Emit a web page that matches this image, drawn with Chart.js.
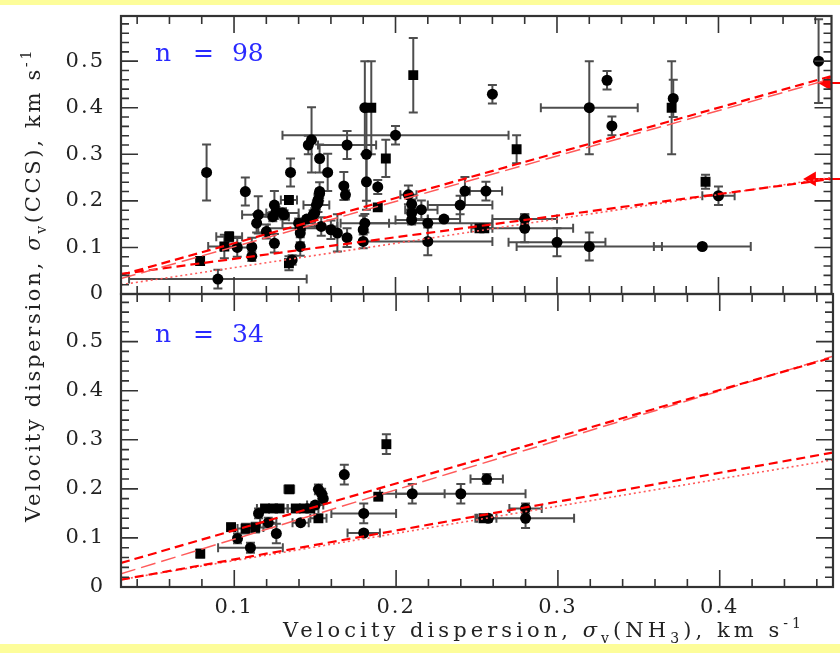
<!DOCTYPE html>
<html>
<head>
<meta charset="utf-8">
<script src="https://cdn.jsdelivr.net/npm/chart.js@4.4.1/dist/chart.umd.min.js"></script>
<style>
body{margin:0;background:#fff;}
#page{position:relative;width:840px;height:653px;background:#fff;overflow:hidden;}
.band{position:absolute;left:0;width:840px;background:#fdfd9a;}
canvas{position:absolute;left:0;top:0;}
</style>
</head>
<body>
<div id="page">
<div class="band" style="top:0;height:5px"></div>
<div class="band" style="top:644px;height:9px"></div>
<canvas id="topChart" width="840" height="653"></canvas>
<canvas id="botChart" width="840" height="653"></canvas>
</div>
<script>
// ---- data ----
// upper panel (n = 98)
const topX    = [0.083,0.090,0.079,0.107,0.097,0.094,0.102,0.111,0.111,0.115,0.114,0.120,0.125,0.124,0.130,0.125,0.134,0.135,0.134,0.136,
                 0.141,0.141,0.140,0.145,0.146,0.148,0.153,0.158,0.153,0.152,0.150,0.154,0.160,0.164,0.168,0.169,0.170,0.170,0.180,0.180,
                 0.181,0.182,0.182,0.185,0.181,0.189,0.189,0.194,0.200,0.211,0.208,0.210,0.216,0.210,0.210,0.220,0.220,0.141,0.126,0.131,
                 0.149,0.151,0.152,0.153,0.260,0.320,0.331,0.334,0.372,0.371,0.462,0.275,0.243,0.256,0.240,0.230,0.255,0.252,0.280,0.280,
                 0.300,0.320,0.390,0.392,0.400];
const topY    = [0.261,0.032,0.071,0.220,0.123,0.102,0.100,0.101,0.081,0.170,0.152,0.134,0.191,0.166,0.174,0.109,0.202,0.261,0.066,0.073,
                 0.131,0.102,0.152,0.161,0.320,0.331,0.291,0.261,0.220,0.196,0.174,0.145,0.138,0.131,0.232,0.213,0.320,0.121,0.138,0.113,
                 0.152,0.241,0.300,0.400,0.400,0.230,0.186,0.291,0.341,0.470,0.213,0.193,0.181,0.174,0.159,0.113,0.152,0.141,0.177,0.170,
                 0.170,0.191,0.202,0.216,0.429,0.400,0.459,0.361,0.420,0.400,0.500,0.311,0.221,0.221,0.191,0.161,0.141,0.141,0.161,0.141,
                 0.111,0.102,0.102,0.241,0.211];
const topXErr = [0,0.055,0,0,0.008,0.01,0.01,0,0,0.01,0,0,0,0.01,0.01,0,0.005,0,0,0,
                 0,0,0.01,0.005,0,0,0,0,0,0,0,0.01,0,0,0,0,0.018,0,0,0,
                 0.015,0,0,0,0,0,0,0,0.07,0,0.005,0,0.01,0,0.01,0.04,0.04,0.02,0,0,
                 0,0.008,0,0,0,0.03,0,0,0,0,0,0,0,0.01,0.02,0.01,0.005,0.005,0.02,0.03,
                 0.03,0.045,0.03,0,0.01];
const topYErr = [0.06,0.02,0.008,0.03,0.01,0.025,0.02,0.02,0.01,0.04,0.02,0.015,0.03,0.01,0.01,0.02,0.005,0.03,0.015,0.01,
                 0.02,0.02,0.01,0.005,0.02,0.07,0.03,0.04,0.02,0.02,0.01,0.02,0.02,0.04,0.03,0.01,0.03,0.02,0.03,0.015,
                 0.02,0.06,0.1,0.1,0.1,0.015,0.005,0.04,0.02,0.08,0.02,0.01,0.02,0.01,0.01,0.03,0,0,0.01,0.01,
                 0.01,0.01,0.01,0.01,0.02,0.1,0.02,0.02,0.04,0.1,0.09,0.03,0.03,0.02,0.02,0.005,0.005,0.005,0.01,0.03,
                 0.03,0.03,0.005,0.015,0.02];
const topShape = ['c','c','s','c','s','s','c','c','c','c','c','c','c','c','c','c','s','c','s','c',
                  'c','c','c','c','c','c','c','c','c','c','c','c','c','c','c','c','c','c','c','c',
                  'c','c','c','s','c','c','s','s','c','s','c','c','c','c','c','c','c','c','c','c',
                  'c','c','c','c','c','c','c','c','c','s','c','s','c','c','c','c','s','s','c','c',
                  'c','c','c','s','c'];

// lower panel (n = 34)
const botX    = [0.079,0.098,0.102,0.107,0.113,0.110,0.115,0.119,0.124,0.128,0.121,0.126,0.134,0.138,0.143,0.147,0.150,0.141,0.152,0.152,
                 0.154,0.155,0.168,0.180,0.180,0.189,0.194,0.210,0.240,0.256,0.254,0.257,0.280,0.280];
const botY    = [0.068,0.122,0.099,0.119,0.121,0.080,0.150,0.160,0.160,0.160,0.131,0.109,0.199,0.160,0.160,0.160,0.167,0.131,0.140,0.199,
                 0.190,0.180,0.229,0.150,0.110,0.184,0.291,0.190,0.190,0.220,0.140,0.140,0.160,0.140];
const botXErr = [0,0,0,0.005,0.005,0.02,0,0.005,0.005,0.005,0.005,0,0.003,0.005,0.005,0.005,0.005,0.005,0.005,0,
                 0,0,0,0.02,0.01,0,0,0.02,0.04,0.01,0.005,0.005,0.01,0.03];
const botYErr = [0.008,0.005,0.01,0.01,0.01,0.01,0.01,0.005,0.005,0.005,0.01,0.02,0.005,0.005,0.005,0.005,0.005,0.005,0.005,0.01,
                 0.01,0.01,0.02,0.02,0.005,0.005,0.02,0.02,0.02,0.01,0.005,0.005,0.01,0.02];
const botShape = ['s','s','c','s','s','c','c','s','s','s','c','c','s','s','s','s','c','c','s','c',
                  'c','c','c','c','c','s','s','c','c','c','s','c','c','c'];

// fitted relations (end points at the plot edges)
const fitX = [0.03, 0.47];
const topSteepDash = [0.041, 0.468];
const topSteepLong = [0.033, 0.462];
const topFlatDash  = [0.043, 0.247];
const topFlatDot   = [0.020, 0.250];
const botSteepDash = [0.049, 0.468];
const botSteepLong = [0.027, 0.470];
const botFlatDash  = [0.015, 0.274];
const botFlatDot   = [0.015, 0.259];

// arrows on the right edge of the upper panel
const arrowX = [0.467, 0.4577];
const arrowY = [0.453, 0.247];
const arrowEnd = 0.49;

const xTicks = [0.1, 0.2, 0.3, 0.4];
const yTicks = [0, 0.1, 0.2, 0.3, 0.4, 0.5];

const xTitle = [['Velocity dispersion, ','n'],['σ','i'],['v','sub'],['(NH','n'],['3','sub'],['), km s','n'],['-1','sup']];
const yTitle = [['Velocity dispersion, ','n'],['σ','i'],['v','sub'],['(CCS), km s','n'],['-1','sup']];

Chart.defaults.font.family = '"DejaVu Serif", serif';
Chart.defaults.color = '#222';

// text with sub/superscripts, stretched to a given width
function drawRich(ctx, segs, o) {
  const size = o.size || 21;
  const fontFor = k => (k === 'i' ? 'italic ' : '') + (k === 'sub' || k === 'sup' ? Math.round(size * 0.66) : size) + 'px "DejaVu Serif"';
  ctx.save();
  ctx.translate(o.x, o.y);
  if (o.rot) ctx.rotate(o.rot);
  ctx.fillStyle = o.color || '#222';
  ctx.textBaseline = 'alphabetic';
  ctx.textAlign = 'left';
  ctx.letterSpacing = '0px';
  let w0 = 0, n = 0;
  segs.forEach(([t, k]) => { ctx.font = fontFor(k); w0 += ctx.measureText(t).width; n += t.length; });
  const sp = Math.max(0, (o.width - w0) / n);
  let x = -o.width / 2;
  segs.forEach(([t, k]) => {
    ctx.font = fontFor(k);
    const w = ctx.measureText(t).width;
    ctx.letterSpacing = sp + 'px';
    const dy = k === 'sub' ? size * 0.3 : k === 'sup' ? -size * 0.42 : 0;
    ctx.fillText(t, x, dy);
    ctx.letterSpacing = '0px';
    x += w + sp * t.length;
  });
  ctx.restore();
}

const spacing = {
  id: 'spacing',
  beforeDraw(chart) { chart.ctx.letterSpacing = '2px'; },
  afterDraw(chart) { chart.ctx.letterSpacing = '0px'; }
};

const errorBars = {
  id: 'errorBars',
  beforeDatasetsDraw(chart) {
    const {ctx, chartArea: a, scales: {x, y}} = chart;
    ctx.save();
    ctx.beginPath();
    ctx.rect(a.left, a.top, a.width, a.height);
    ctx.clip();
    ctx.strokeStyle = '#4d4d4d';
    ctx.lineWidth = 2;
    const cap = 4.5;
    chart.data.datasets.forEach(ds => {
      if (!ds.xErr) return;
      ds.data.forEach((p, i) => {
        const px = x.getPixelForValue(p.x), py = y.getPixelForValue(p.y);
        const ex = ds.xErr[i], ey = ds.yErr[i];
        ctx.beginPath();
        if (ey > 0) {
          const y0 = y.getPixelForValue(p.y - ey), y1 = y.getPixelForValue(p.y + ey);
          ctx.moveTo(px, y0); ctx.lineTo(px, y1);
          ctx.moveTo(px - cap, y0); ctx.lineTo(px + cap, y0);
          ctx.moveTo(px - cap, y1); ctx.lineTo(px + cap, y1);
        }
        if (ex > 0) {
          const x0 = x.getPixelForValue(p.x - ex), x1 = x.getPixelForValue(p.x + ex);
          ctx.moveTo(x0, py); ctx.lineTo(x1, py);
          ctx.moveTo(x0, py - cap); ctx.lineTo(x0, py + cap);
          ctx.moveTo(x1, py - cap); ctx.lineTo(x1, py + cap);
        }
        ctx.stroke();
      });
    });
    ctx.restore();
  }
};

// box with inward major/minor ticks on all four sides
const frameTicks = {
  id: 'frameTicks',
  afterDraw(chart) {
    const {ctx, chartArea: a, scales: {x, y}} = chart;
    const isMajor = v => Math.abs(v * 10 - Math.round(v * 10)) < 1e-6;
    ctx.save();
    ctx.strokeStyle = '#333';
    ctx.lineWidth = 1.6;
    ctx.beginPath();
    for (let k = Math.ceil(x.min / 0.02 - 1e-9); k * 0.02 <= x.max + 1e-9; k++) {
      const v = k * 0.02, len = isMajor(v) ? 17 : 8, px = x.getPixelForValue(v);
      ctx.moveTo(px, a.bottom); ctx.lineTo(px, a.bottom - len);
      ctx.moveTo(px, a.top); ctx.lineTo(px, a.top + len);
    }
    for (let k = Math.ceil(y.min / 0.02 - 1e-9); k * 0.02 <= y.max + 1e-9; k++) {
      const v = k * 0.02, len = isMajor(v) ? 17 : 8, py = y.getPixelForValue(v);
      ctx.moveTo(a.left, py); ctx.lineTo(a.left + len, py);
      ctx.moveTo(a.right, py); ctx.lineTo(a.right - len, py);
    }
    ctx.stroke();
    ctx.lineWidth = 2.2;
    ctx.strokeRect(a.left, a.top, a.width, a.height);
    ctx.restore();
  }
};

// "n = ..." label in the upper left corner of each panel
const panelText = {
  id: 'panelText',
  afterDraw(chart, args, opts) {
    const {ctx, scales: {x, y}} = chart;
    const px = x.getPixelForValue(opts.x), py = y.getPixelForValue(opts.y);
    ctx.save();
    ctx.letterSpacing = '0px';
    ctx.font = '25px "DejaVu Serif"';
    ctx.fillStyle = '#2a2aff';
    ctx.textBaseline = 'alphabetic';
    ctx.fillText('n', px, py);
    ctx.fillText('=', px + 38, py);
    ctx.fillText(opts.count, px + 77, py);
    ctx.restore();
    if (opts.titles) {
      drawRich(ctx, xTitle, {x: 544, y: 637, width: 522});
      drawRich(ctx, yTitle, {x: 40, y: 285, width: 474, rot: -Math.PI / 2});
    }
  }
};

function fitLine(ys, color, width, dash) {
  return {
    data: fitX.map((v, i) => ({x: v, y: ys[i]})),
    showLine: true, borderColor: color, borderWidth: width, borderDash: dash,
    pointRadius: 0, fill: false
  };
}

function pointSet(xs, ys, xe, ye, shapes) {
  return {
    data: xs.map((v, i) => ({x: v, y: ys[i]})),
    xErr: xe, yErr: ye,
    pointStyle: shapes.map(s => s === 's' ? 'rect' : 'circle'),
    pointRadius: shapes.map(s => s === 's' ? 7 : 5.5),
    backgroundColor: '#000', borderColor: '#000', borderWidth: 0
  };
}

// keep the plot box exactly where the layout padding puts it
function noLabelPadding(s) {
  s.paddingTop = 0; s.paddingBottom = 0; s.paddingLeft = 0; s.paddingRight = 0;
}

function yScale() {
  return {
    min: 0, max: 0.597,
    afterFit: s => { s.width = 121; noLabelPadding(s); },
    afterBuildTicks: s => { s.ticks = yTicks.map(v => ({value: v})); },
    grid: {display: false, drawTicks: false},
    border: {display: false},
    ticks: {padding: 16, font: {size: 21}, callback: v => String(v)}
  };
}

const arrows = arrowY.map((v, i) => ({
  data: [{x: arrowX[i], y: v}, {x: arrowEnd, y: v}],
  showLine: true, borderColor: '#ff0000', borderWidth: 2,
  pointRadius: [8.5, 0], pointStyle: 'triangle', pointRotation: -90,
  backgroundColor: '#ff0000', pointBorderWidth: 0, clip: false
}));

const topChart = new Chart(document.getElementById('topChart'), {
  type: 'scatter',
  data: {
    datasets: [
      fitLine(topSteepDash, '#ff0000', 2.2, [9, 5]),
      fitLine(topSteepLong, '#ff5a5a', 1.5, [15, 6]),
      fitLine(topFlatDash, '#ff0000', 2.2, [9, 5]),
      fitLine(topFlatDot, '#ff5a5a', 1.6, [2, 3]),
      ...arrows,
      pointSet(topX, topY, topXErr, topYErr, topShape)
    ]
  },
  options: {
    responsive: false, animation: false, devicePixelRatio: 1,
    layout: {padding: {left: 0, right: 7, top: 16, bottom: 359}},
    plugins: {
      legend: {display: false}, tooltip: {enabled: false},
      panelText: {count: '98', x: 0.051, y: 0.5}
    },
    scales: {
      x: {type: 'linear', min: 0.03, max: 0.47, display: false},
      y: yScale()
    }
  },
  plugins: [spacing, errorBars, frameTicks, panelText]
});

const botChart = new Chart(document.getElementById('botChart'), {
  type: 'scatter',
  data: {
    datasets: [
      fitLine(botSteepDash, '#ff0000', 2.2, [9, 5]),
      fitLine(botSteepLong, '#ff5a5a', 1.5, [15, 6]),
      fitLine(botFlatDash, '#ff0000', 2.2, [9, 5]),
      fitLine(botFlatDot, '#ff5a5a', 1.6, [2, 3]),
      pointSet(botX, botY, botXErr, botYErr, botShape)
    ]
  },
  options: {
    responsive: false, animation: false, devicePixelRatio: 1,
    layout: {padding: {left: 0, right: 7, top: 294, bottom: 0}},
    plugins: {
      legend: {display: false}, tooltip: {enabled: false},
      panelText: {count: '34', x: 0.051, y: 0.5, titles: true}
    },
    scales: {
      x: {
        type: 'linear', min: 0.03, max: 0.47,
        afterFit: s => { s.height = 66; noLabelPadding(s); },
        afterBuildTicks: s => { s.ticks = xTicks.map(v => ({value: v})); },
        grid: {display: false, drawTicks: false},
        border: {display: false},
        ticks: {padding: 8, font: {size: 21}, maxRotation: 0, callback: v => String(v)}
      },
      y: yScale()
    }
  },
  plugins: [spacing, errorBars, frameTicks, panelText]
});
</script>
</body>
</html>
